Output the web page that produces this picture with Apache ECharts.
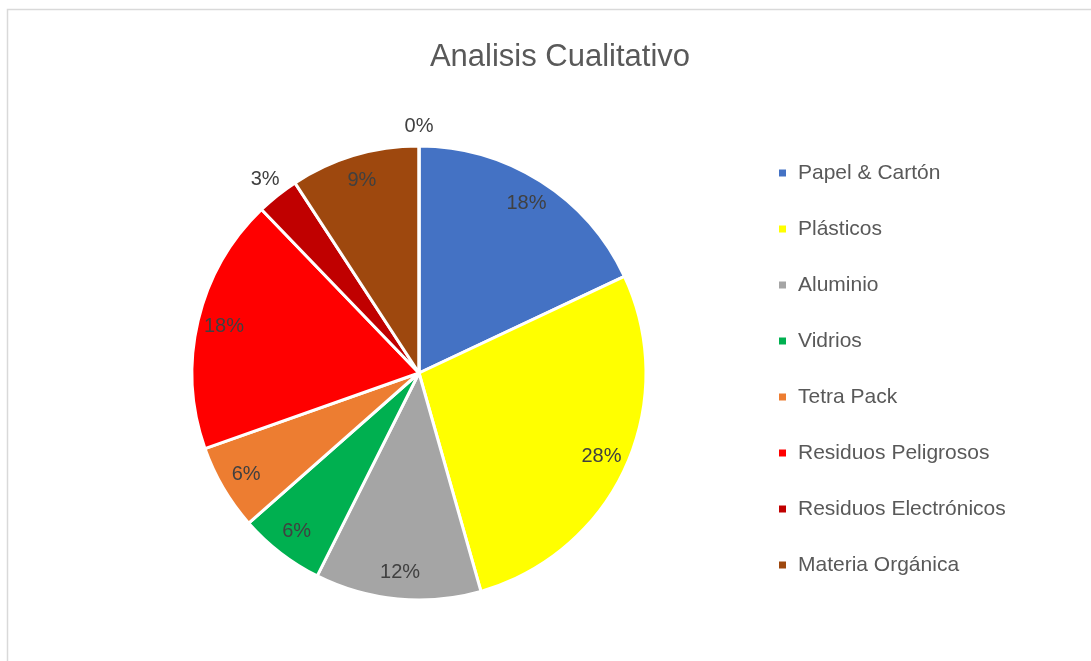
<!DOCTYPE html>
<html>
<head>
<meta charset="utf-8">
<script src="https://cdn.jsdelivr.net/npm/echarts@6/dist/echarts.min.js"></script>
<style>html,body{margin:0;padding:0;background:#fff;}#c{width:1091px;height:661px;}</style>
</head>
<body>
<div id="c"></div>
<script>
const categories = ['Papel & Cartón','Plásticos','Aluminio','Vidrios','Tetra Pack','Residuos Peligrosos','Residuos Electrónicos','Materia Orgánica',''];
const values = [18.0, 27.6, 11.8, 6.1, 6.1, 18.2, 3.0, 9.2, 0];
const colors = ['#4472C4','#FFFF00','#A5A5A5','#00B050','#ED7D31','#FF0000','#C00000','#9E480E','#7F7F7F'];
const outsideLabels = [6, 8]; // indices whose labels sit outside the pie

const chart = echarts.init(document.getElementById('c'), null, {renderer:'canvas'});
const FONT = '"Liberation Sans", Arial, sans-serif';
const center = [419, 373];
const R = 227;
const fmt = p => Math.round(p.percent) + '%';

const mainData = categories.map((n,i)=>({name:n, value:values[i], itemStyle:{color:colors[i]}}));
const innerLabelData = categories.map((n,i)=>({name:n, value:values[i], label:{show: outsideLabels.indexOf(i) < 0}}));
const outerLabelData = categories.map((n,i)=>({name:n, value:values[i], label:{show: outsideLabels.indexOf(i) >= 0}}));

chart.setOption({
  animation:false,
  graphic:[{type:'rect', shape:{x:7.5, y:9.5, width:1300, height:900}, style:{fill:null, stroke:'#d9d9d9', lineWidth:1.5}, silent:true}],
  title:{text:'Analisis Cualitativo', left:555, top:37, textAlign:'center',
    textStyle:{fontFamily:FONT, fontSize:31, fontWeight:'normal', color:'#595959'}},
  legend:{orient:'vertical', left:772, top:157, itemWidth:9, itemHeight:9, icon:'rect', itemGap:34,
    data:categories.slice(0,8),
    textStyle:{fontFamily:FONT, fontSize:21, color:'#595959', lineHeight:22, padding:[0,0,0,6]}},
  series:[
    {type:'pie', center:center, radius:[0,R], startAngle:90, clockwise:true, data:mainData,
      itemStyle:{borderColor:'#fff', borderWidth:3}, label:{show:false}, labelLine:{show:false},
      emphasis:{disabled:true}, legendHoverLink:false},
    {type:'pie', center:center, radius:[168,R], startAngle:90, clockwise:true, data:innerLabelData, silent:true,
      itemStyle:{color:'rgba(0,0,0,0)', borderWidth:0}, labelLine:{show:false},
      label:{position:'inside', formatter:fmt, fontFamily:FONT, fontSize:20, color:'#404040'},
      emphasis:{disabled:true}, legendHoverLink:false},
    {type:'pie', center:center, radius:[220,268], startAngle:90, clockwise:true, data:outerLabelData, silent:true,
      itemStyle:{color:'rgba(0,0,0,0)', borderWidth:0}, labelLine:{show:false},
      label:{position:'inside', formatter:fmt, fontFamily:FONT, fontSize:20, color:'#404040'},
      emphasis:{disabled:true}, legendHoverLink:false}
  ]
});
</script>
</body>
</html>
